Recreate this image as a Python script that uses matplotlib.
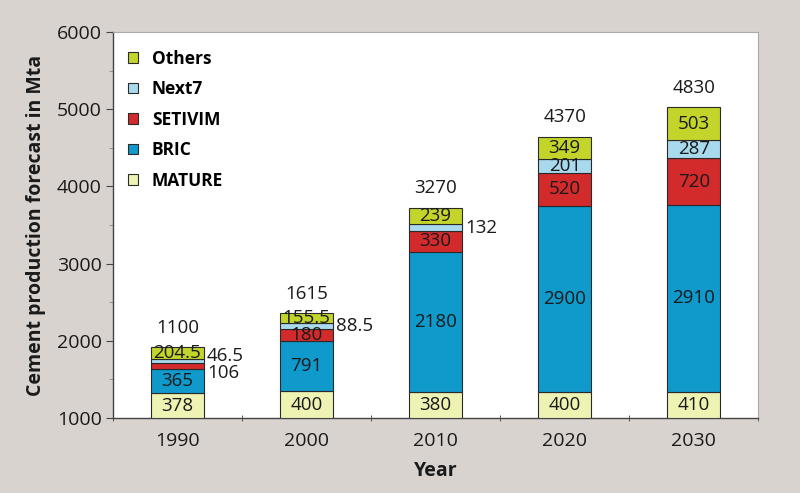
import matplotlib
matplotlib.use("Agg")
import matplotlib.pyplot as plt
from matplotlib.ticker import MultipleLocator
import numpy as np

plt.rcParams['font.family'] = ['Open Sans', 'DejaVu Sans']

years = ["1990", "2000", "2010", "2020", "2030"]
series = ["MATURE", "BRIC", "SETIVIM", "Next7", "Others"]

# segment heights as drawn on the chart's axis
mature_h = [320, 350, 333, 341, 341]
bric_h = [311, 647, 1821, 2409, 2418]
setivim_h = [85, 152, 268, 427, 605]
next7_h = [44, 78, 87, 174, 237]
others_h = [163, 129, 215, 293, 424]

# printed values
mature_lbl = ["378", "400", "380", "400", "410"]
bric_lbl = ["365", "791", "2180", "2900", "2910"]
setivim_lbl = ["106", "180", "330", "520", "720"]
next7_lbl = ["46.5", "88.5", "132", "201", "287"]
others_lbl = ["204.5", "155.5", "239", "349", "503"]
totals = ["1100", "1615", "3270", "4370", "4830"]

colors = ["#eef3b4", "#0f9acb", "#d32a2c", "#a9d9ec", "#c3d52b"]
base = 1000
fs = 13.5

fig = plt.figure(figsize=(8, 4.93), dpi=100, facecolor="#d9d3d0")
ax = fig.add_axes([0.141, 0.152, 0.807, 0.783])
ax.set_facecolor("white")

x = np.arange(len(years))
heights = [mature_h, bric_h, setivim_h, next7_h, others_h]
labels = [mature_lbl, bric_lbl, setivim_lbl, next7_lbl, others_lbl]
bottom = np.full(len(years), float(base))
bars = []
for name, h, col, lbl in zip(series, heights, colors, labels):
    h = np.array(h, dtype=float)
    b = ax.bar(x, h, 0.41, bottom=bottom, color=col, edgecolor="#2a2a2a",
               linewidth=0.8, label=name, zorder=3)
    bars.append(b)
    for i in range(len(years)):
        mid = bottom[i] + h[i] / 2
        # small segments get their labels to the right of the bar
        if (name == "SETIVIM" and i == 0) or (name == "Next7" and i < 3):
            dy = 0
            if name == "Next7" and i == 0:
                dy = 65
            if name == "SETIVIM" and i == 0:
                dy = -85
            ax.text(x[i] + 0.23, mid + dy, lbl[i], ha="left", va="center",
                    fontsize=fs, color="#1a1a1a", zorder=4)
        else:
            ax.text(x[i], mid, lbl[i], ha="center", va="center",
                    fontsize=fs, color="#1a1a1a", zorder=4)
    bottom = bottom + h

for i in range(len(years)):
    ax.text(x[i], bottom[i] + 250, totals[i], ha="center", va="center",
            fontsize=fs, color="#1a1a1a")

ax.set_xlim(-0.5, 4.5)
ax.set_ylim(1000, 6000)
ax.set_xticks(x)
ax.set_xticklabels(years, fontsize=14, color="#1a1a1a")
ax.set_xticks(np.arange(-0.5, 5, 1), minor=True)
ax.tick_params(axis="x", which="major", length=0, pad=10)
ax.tick_params(axis="x", which="minor", length=4, direction="inout", color="#444444")
ax.yaxis.set_major_locator(MultipleLocator(1000))
ax.yaxis.set_minor_locator(MultipleLocator(500))
ax.tick_params(axis="y", which="major", length=5, direction="out", labelsize=14,
               labelcolor="#1a1a1a", color="#444444", pad=3)
ax.tick_params(axis="y", which="minor", length=3, direction="out", color="#888888")

for s in ["top", "right"]:
    ax.spines[s].set_color("#aaaaaa")
    ax.spines[s].set_linewidth(0.8)
for s in ["left", "bottom"]:
    ax.spines[s].set_color("#444444")
    ax.spines[s].set_linewidth(1.0)

ax.set_xlabel("Year", fontsize=14, fontweight="bold", color="#1a1a1a", labelpad=8)
ax.set_ylabel("Cement production forecast in Mta", fontsize=14, fontweight="bold",
              color="#1a1a1a", labelpad=8)

handles = bars[::-1]
leg = ax.legend(handles, series[::-1], loc="upper left", bbox_to_anchor=(0.0, 0.995),
                frameon=False, prop={"weight": "bold", "size": 12.5},
                handlelength=0.55, handleheight=0.55, labelspacing=0.72,
                handletextpad=0.8)

fig.savefig("out.png", dpi=100, facecolor=fig.get_facecolor())
